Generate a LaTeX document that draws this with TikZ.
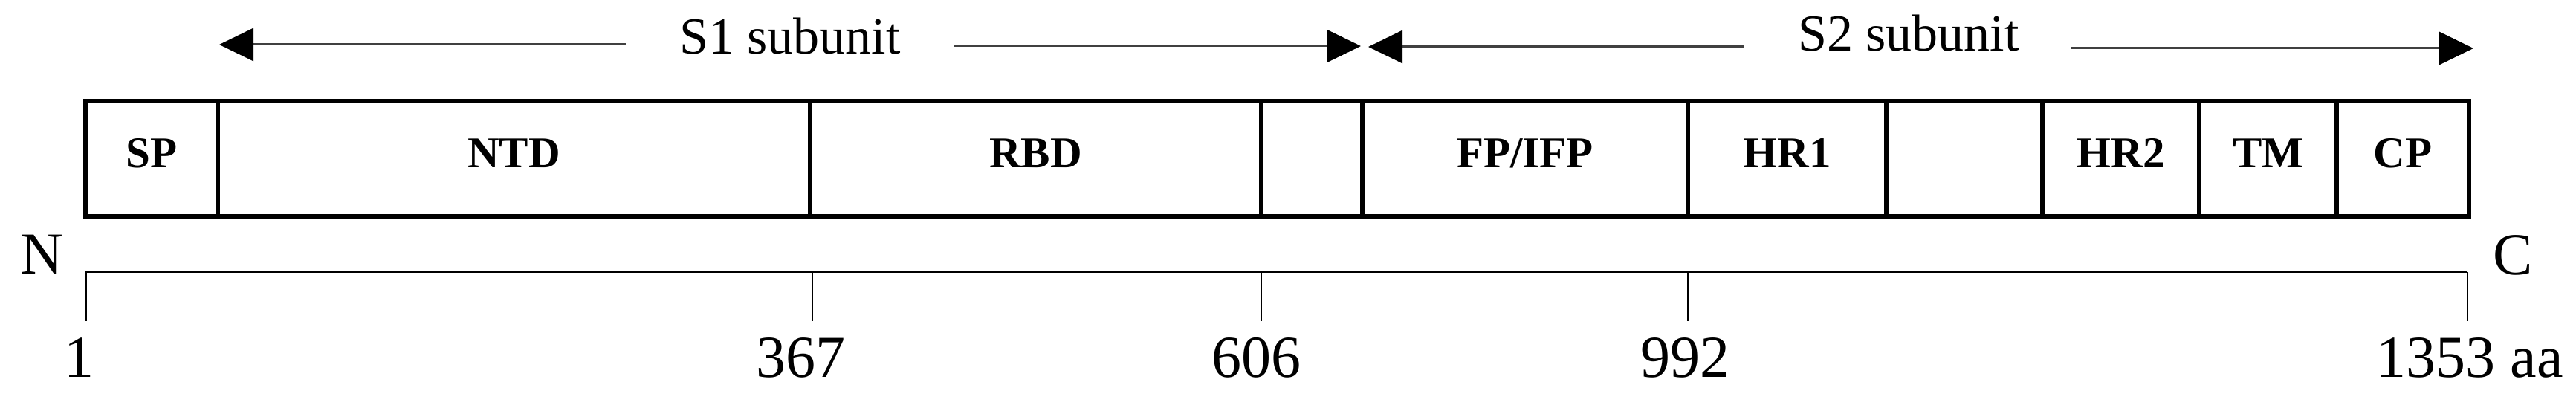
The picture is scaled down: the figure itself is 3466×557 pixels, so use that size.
\documentclass[tikz,border=0pt]{standalone}
\usepackage{fontspec}
\setmainfont{Liberation Serif}
\usetikzlibrary{arrows.meta}
\begin{document}
\begin{tikzpicture}[x=0.2pt,y=-0.2pt,
  dom/.style={draw,line width=1.1pt,minimum height=31pt,inner sep=0pt,outer sep=0pt,
    text height=7.8pt,text depth=2.8pt,font=\bfseries\fontsize{11.8}{14}\selectfont},
  big/.style={inner sep=0pt,anchor=base,font=\fontsize{16}{19}\selectfont},
  sub/.style={inner sep=0pt,anchor=base,font=\fontsize{14}{17}\selectfont},
  sarrow/.style={draw=black!75,line width=0.6pt,-{Triangle[length=9.2pt,width=8.8pt,color=black]}},
  axis/.style={line width=0.6pt},
  tick/.style={line width=0.55pt}]
\useasboundingbox (0,0) rectangle (3466,557);
% domains
\foreach \n/\l/\r/\t in {sp/115/293/SP,ntd/293/1090/NTD,rbd/1090/1697/RBD,sd/1697/1833/,
  fp/1833/2271/{FP/IFP},hr1/2271/2538/HR1,cr/2538/2748/,hr2/2748/2959/HR2,
  tm/2959/3144/TM,cp/3144/3322/CP}
  \node[dom,minimum width={(\r-\l)*0.2pt}] (\n) at ({(\l+\r)/2},213.5) {\t};
% subunit labels and arrows
\node[sub] (s1) at (1063,73) {S1 subunit};
\node[sub] (s2) at (2568,69) {S2 subunit};
\coordinate (s1l) at (842,60);   \coordinate (s1lt) at (295,60);
\coordinate (s1r) at (1284,62);  \coordinate (s1rt) at (1831,62);
\coordinate (s2l) at (2346,63);  \coordinate (s2lt) at (1841,63);
\coordinate (s2r) at (2786,65);  \coordinate (s2rt) at (3328,65);
\draw[sarrow] (s1l) -- (s1lt);
\draw[sarrow] (s1r) -- (s1rt);
\draw[sarrow] (s2l) -- (s2lt);
\draw[sarrow] (s2r) -- (s2rt);
% N and C
\node[big] (N) at (56,369) {N};
\node[big] (C) at (3381,370) {C};
% axis
\coordinate (a0) at (115,366);
\coordinate (a1) at (3320,366);
\draw[axis] (a0) -- (a1);
\foreach \n/\x/\tx/\t in {t1/116/106/1,t367/1093/1077/367,t606/1697/1690/606,t992/2271/2267/992,t1353/3320/3323/1353 aa}{
  \coordinate (\n a) at (\x,366);
  \coordinate (\n b) at (\x,432);
  \draw[tick] (\n a) -- (\n b);
  \node[big] (\n) at (\tx,508) {\t};
}
\end{tikzpicture}
\end{document}
